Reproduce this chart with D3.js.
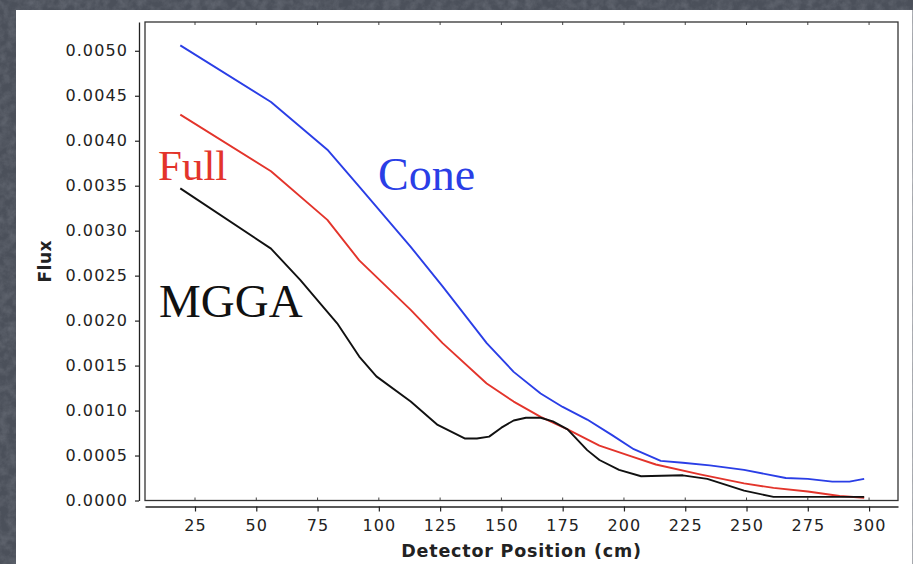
<!DOCTYPE html>
<html>
<head>
<meta charset="utf-8">
<script src="https://cdn.jsdelivr.net/npm/d3@7/dist/d3.min.js"></script>
<style>
  html, body { margin: 0; padding: 0; background: #4b505a; }
  svg { display: block; }
  .tick text { font-family: "DejaVu Sans", sans-serif; font-size: 16px; letter-spacing: 1.1px; fill: #222; }
</style>
</head>
<body>
<script>
// Flux along the detector for three source models
const coneX = [19, 56, 79, 92, 113, 126, 144, 155, 166, 175, 185, 195, 204, 215, 224, 235, 249, 266, 275, 285, 292, 298];
const coneFlux = [0.00506, 0.00443, 0.00390, 0.00349, 0.00282, 0.00238, 0.00175, 0.00143, 0.00119, 0.00104, 0.00090, 0.00073, 0.00057, 0.00044, 0.00042, 0.00039, 0.00034, 0.00025, 0.00024, 0.00021, 0.00021, 0.00024];

const fullX = [19, 56, 79, 92, 113, 126, 144, 155, 166, 177, 190, 203, 213, 231, 249, 261, 275, 288, 298];
const fullFlux = [0.00429, 0.00366, 0.00312, 0.00267, 0.00212, 0.00175, 0.00130, 0.00110, 0.00093, 0.00079, 0.00061, 0.00049, 0.00040, 0.00029, 0.00019, 0.00014, 0.00010, 0.00005, 0.00003];

const mggaX = [19, 56, 68, 77, 83, 92, 99, 113, 124, 135, 140, 145, 150, 155, 160, 166, 171, 177, 185, 190, 198, 207, 224, 234, 249, 261, 275, 288, 298];
const mggaFlux = [0.00347, 0.00280, 0.00245, 0.00216, 0.00197, 0.00160, 0.00138, 0.00110, 0.00084, 0.00069, 0.00069, 0.00071, 0.00081, 0.00089, 0.00092, 0.00092, 0.00088, 0.00079, 0.00056, 0.00045, 0.00034, 0.00027, 0.00028, 0.00024, 0.00011, 0.00004, 0.00004, 0.00004, 0.00004];

const xTicks = [25, 50, 75, 100, 125, 150, 175, 200, 225, 250, 275, 300];
const yTicks = [0, 0.0005, 0.001, 0.0015, 0.002, 0.0025, 0.003, 0.0035, 0.004, 0.0045, 0.005];

const seriesNames = ["Cone", "Full", "MGGA"];
const seriesColors = ["#2a3ee6", "#e3342b", "#111111"];

const W = 913, H = 564;
const plot = { left: 145, right: 898, top: 22, bottom: 500.5 };

const svg = d3.select("body").append("svg").attr("width", W).attr("height", H);

// textured slate backdrop
const defs = svg.append("defs");
const f = defs.append("filter").attr("id", "grain").attr("x", 0).attr("y", 0).attr("width", "100%").attr("height", "100%");
f.append("feTurbulence").attr("type", "fractalNoise").attr("baseFrequency", 0.12).attr("numOctaves", 4).attr("seed", 7);
f.append("feColorMatrix").attr("type", "matrix")
  .attr("values", "0 0 0 0 0.38  0 0 0 0 0.40  0 0 0 0 0.45  0 0 0 -1.4 0.95");
svg.append("rect").attr("width", W).attr("height", H).attr("fill", "#4b505a");
svg.append("rect").attr("width", W).attr("height", H).attr("filter", "url(#grain)").attr("opacity", 0.3);

// white card
svg.append("rect").attr("x", 16).attr("y", 10).attr("width", 896.5).attr("height", H - 10).attr("fill", "#ffffff");

const x = d3.scaleLinear().domain([4.6, 311.8]).range([plot.left, plot.right]);
const y = d3.scaleLinear().domain([0, 0.00532]).range([plot.bottom, plot.top]);

// left value axis, detached from the frame
svg.append("g")
  .attr("transform", "translate(139,0)")
  .call(d3.axisLeft(y).tickValues(yTicks).tickFormat(d3.format(".4f")).tickSize(4).tickSizeOuter(0).tickPadding(7))
  .call(g => g.select(".domain").attr("stroke", "#222").attr("stroke-width", 1.3))
  .call(g => g.selectAll(".tick line").attr("stroke", "#222").attr("stroke-width", 1.2));

// bottom axis, detached from the frame
svg.append("g")
  .attr("transform", "translate(0,506.5)")
  .call(d3.axisBottom(x).tickValues(xTicks).tickSize(5).tickSizeOuter(0).tickPadding(7))
  .call(g => g.select(".domain").attr("stroke", "#222").attr("stroke-width", 1.3))
  .call(g => g.selectAll(".tick line").attr("stroke", "#222").attr("stroke-width", 1.2))
  .call(g => g.selectAll(".tick text").attr("dy", "0.80em"));

// short inner ticks along the frame
const inner = svg.append("g").attr("stroke", "#444").attr("stroke-width", 1);
inner.selectAll("line.tt").data(xTicks).join("line")
  .attr("x1", d => x(d)).attr("x2", d => x(d)).attr("y1", plot.top).attr("y2", plot.top + 3);
inner.selectAll("line.bt").data(xTicks).join("line")
  .attr("x1", d => x(d)).attr("x2", d => x(d)).attr("y1", plot.bottom).attr("y2", plot.bottom - 3);

// series lines
const line = d3.line().x(d => x(d[0])).y(d => y(d[1])).curve(d3.curveLinear);
const series = [
  { name: seriesNames[0], color: seriesColors[0], pts: d3.zip(coneX, coneFlux) },
  { name: seriesNames[1], color: seriesColors[1], pts: d3.zip(fullX, fullFlux) },
  { name: seriesNames[2], color: seriesColors[2], pts: d3.zip(mggaX, mggaFlux) }
];
svg.append("g").selectAll("path").data(series).join("path")
  .attr("d", d => line(d.pts))
  .attr("fill", "none")
  .attr("stroke", d => d.color)
  .attr("stroke-width", 1.9)
  .attr("stroke-linejoin", "round");

// plot frame
svg.append("rect")
  .attr("x", plot.left).attr("y", plot.top)
  .attr("width", plot.right - plot.left).attr("height", plot.bottom - plot.top)
  .attr("fill", "none").attr("stroke", "#333").attr("stroke-width", 1.3);

// axis titles
svg.append("text")
  .attr("x", (plot.left + plot.right) / 2).attr("y", 557)
  .attr("text-anchor", "middle")
  .attr("font-family", "DejaVu Sans, sans-serif").attr("font-weight", "bold").attr("font-size", 17.5)
  .attr("letter-spacing", 0.8)
  .attr("fill", "#222")
  .text("Detector Position (cm)");
svg.append("text")
  .attr("transform", `translate(51,${(plot.top + plot.bottom) / 2}) rotate(-90)`)
  .attr("text-anchor", "middle")
  .attr("font-family", "DejaVu Sans, sans-serif").attr("font-weight", "bold").attr("font-size", 17)
  .attr("letter-spacing", 0.5)
  .attr("fill", "#222")
  .text("Flux");

// series names written on the chart
const labels = [
  { text: seriesNames[1], color: seriesColors[1], x: 158, y: 180, size: 43 },
  { text: seriesNames[0], color: seriesColors[0], x: 378, y: 190, size: 46 },
  { text: seriesNames[2], color: seriesColors[2], x: 159, y: 317, size: 47 }
];
svg.append("g").selectAll("text").data(labels).join("text")
  .attr("x", d => d.x).attr("y", d => d.y)
  .attr("font-family", "Liberation Serif, Times New Roman, serif")
  .attr("font-size", d => d.size)
  .attr("fill", d => d.color)
  .text(d => d.text);
</script>
</body>
</html>
